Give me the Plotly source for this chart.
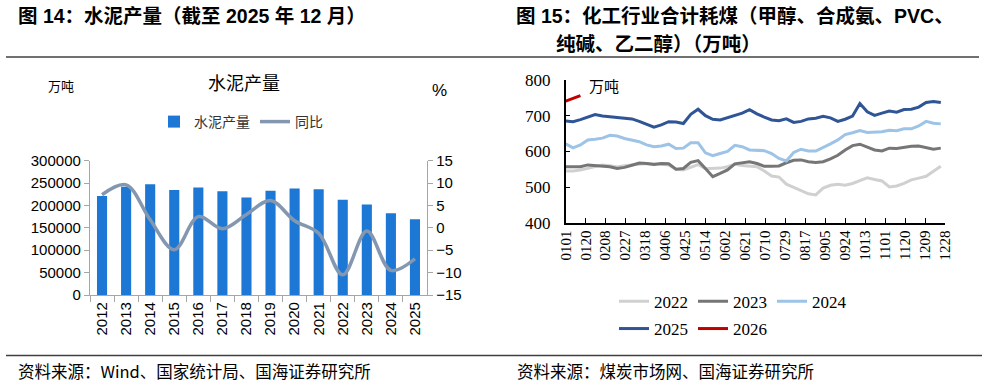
import datetime as dt
import plotly.graph_objects as go

# ---------------- data: left chart (cement output) ----------------
years = ['2012', '2013', '2014', '2015', '2016', '2017', '2018',
         '2019', '2020', '2021', '2022', '2023', '2024', '2025']
cement_output = [220984, 241924, 247619, 234796, 240295, 231625, 217667,
                 233036, 237691, 236281, 212927, 202300, 182500, 169000]
cement_yoy = [7.4, 9.6, 1.8, -4.9, 2.5, -0.2, 3.0,
              6.1, 1.6, -1.2, -10.5, -0.7, -9.5, -6.9]

# ---------------- data: right chart (chemical coal use, weekly) ----------------
tick_labels = ['0101', '0120', '0208', '0227', '0318', '0406', '0425', '0514',
               '0602', '0621', '0710', '0729', '0817', '0905', '0924', '1013',
               '1101', '1120', '1209', '1228']
coal_2022 = [545, 545, 548, 553, 558, 562, 560, 556, 560, 563,
             564, 566, 566, 564, 562, 550, 548, 555, 563, 551,
             551, 553, 557, 564, 560, 558, 557, 545, 531, 528,
             508, 499, 491, 481, 478, 497, 505, 508, 505, 510,
             518, 526, 521, 517, 500, 503, 510, 520, 525, 530,
             544, 558]
coal_2023 = [557, 557, 557, 562, 560, 560, 557, 552, 555, 561,
             567, 566, 563, 566, 565, 550, 552, 569, 574, 552,
             529, 538, 548, 565, 568, 571, 566, 558, 558, 559,
             568, 575, 576, 571, 569, 571, 579, 589, 604, 616,
             620, 611, 604, 601, 609, 608, 612, 614, 615, 610,
             606, 609]
coal_2024 = [621, 610, 618, 632, 634, 637, 645, 643, 636, 632,
             627, 618, 613, 615, 620, 608, 609, 624, 624, 596,
             588, 594, 600, 617, 613, 604, 604, 602, 594, 580,
             573, 597, 606, 601, 601, 610, 621, 632, 647, 652,
             658, 653, 654, 655, 659, 658, 663, 663, 671, 684,
             679, 677]
coal_2025 = [685, 683, 689, 697, 703, 699, 697, 695, 692, 691,
             684, 676, 668, 674, 683, 682, 678, 704, 718, 700,
             690, 688, 694, 699, 707, 717, 705, 696, 688, 686,
             691, 681, 684, 691, 693, 698, 694, 684, 690, 699,
             734, 711, 701, 707, 713, 710, 717, 718, 724, 737,
             740, 737]
coal_2026 = [741, 749, 756]

coal_series = [('2022', coal_2022, '#D0D0D0', 'legend2'),
               ('2023', coal_2023, '#767676', 'legend2'),
               ('2024', coal_2024, '#9DC3E6', 'legend2'),
               ('2025', coal_2025, '#2F5597', 'legend3'),
               ('2026', coal_2026, '#C00000', 'legend3')]

# day-of-year positions (weekly observations, axis labelled by MMDD)
base = dt.date(2025, 1, 1)
week_dates = [base + dt.timedelta(days=7 * k) for k in range(len(coal_2025))]
week_days = [(d - base).days for d in week_dates]
tick_days = [(dt.date(2025, int(t[:2]), int(t[2:])) - base).days for t in tick_labels]

W, H = 989, 389
def px(x):
    return x / W
def py(y):
    return 1 - y / H

SANS = 'Liberation Sans, Arial, Noto Sans CJK SC, sans-serif'
CJK = 'Noto Sans CJK SC, sans-serif'
SERIF = 'Liberation Serif, Times New Roman, Noto Sans CJK SC, serif'
GREY = '#A6A6A6'

fig = go.Figure()

fig.add_trace(go.Bar(x=years, y=cement_output, name='水泥产量',
                     marker=dict(color='#1C78D4', line=dict(width=0)),
                     xaxis='x', yaxis='y', legend='legend'))
fig.add_trace(go.Scatter(x=years, y=cement_yoy, name='同比', mode='lines',
                         line=dict(color='#8497B0', width=3.5, shape='spline', smoothing=1.0),
                         xaxis='x', yaxis='y2', legend='legend'))

for name, vals, color, lg in coal_series:
    fig.add_trace(go.Scatter(x=week_days[:len(vals)], y=vals, name=name, mode='lines',
                             line=dict(color=color, width=3),
                             xaxis='x2', yaxis='y3', legend=lg))

fig.update_layout(
    width=W, height=H, margin=dict(l=0, r=0, t=0, b=0, autoexpand=False),
    paper_bgcolor='white', plot_bgcolor='white',
    bargap=0.58,
    xaxis=dict(domain=[px(90), px(427)], anchor='y', type='category', automargin=False,
               showline=True, linecolor=GREY, linewidth=1.3,
               ticks='outside', tickson='boundaries', ticklen=6, tickcolor=GREY,
               tickangle=-90, tickfont=dict(family=SANS, size=15, color='#000'),
               showgrid=False, zeroline=False),
    yaxis=dict(domain=[py(295), py(160.7)], anchor='x', range=[0, 300000], dtick=50000,
               tickformat='d', exponentformat='none', automargin=False,
               showline=True, linecolor=GREY, linewidth=1.3,
               ticks='outside', ticklen=5, tickcolor=GREY,
               tickfont=dict(family=SANS, size=15, color='#000'),
               showgrid=False, zeroline=False),
    yaxis2=dict(overlaying='y', side='right', anchor='x', range=[-15, 15], dtick=5,
                automargin=False,
                showline=True, linecolor=GREY, linewidth=1.3,
                ticks='outside', ticklen=5, tickcolor=GREY,
                tickfont=dict(family=SANS, size=15, color='#000'),
                showgrid=False, zeroline=False),
    xaxis2=dict(domain=[px(565.7), px(945)], anchor='y3', range=[0, 361], automargin=False,
                tickmode='array', tickvals=tick_days, ticktext=tick_labels,
                showline=True, linecolor='#000', linewidth=1.5,
                ticks='inside', ticklen=5, tickcolor='#000', tickwidth=1.2,
                tickangle=-90, tickfont=dict(family=SERIF, size=15, color='#000'),
                showgrid=False, zeroline=False),
    yaxis3=dict(domain=[py(222.7), py(80)], anchor='x2', range=[400, 800], dtick=100,
                automargin=False,
                showline=True, linecolor='#000', linewidth=1.5,
                ticks='inside', ticklen=5, tickcolor='#000', tickwidth=1.2,
                ticklabelstandoff=10,
                tickfont=dict(family=SERIF, size=17, color='#000'),
                showgrid=False, zeroline=False),
    legend=dict(orientation='h', x=px(241), xanchor='center', y=py(122), yanchor='middle',
                font=dict(family=CJK, size=14, color='#333'), bgcolor='rgba(0,0,0,0)',
                traceorder='normal', itemwidth=30),
    legend2=dict(orientation='h', x=px(614), xanchor='left', y=py(301.7), yanchor='middle',
                 font=dict(family=SERIF, size=17, color='#000'), bgcolor='rgba(0,0,0,0)',
                 traceorder='normal', itemwidth=30),
    legend3=dict(orientation='h', x=px(614), xanchor='left', y=py(329), yanchor='middle',
                 font=dict(family=SERIF, size=17, color='#000'), bgcolor='rgba(0,0,0,0)',
                 traceorder='normal', itemwidth=30),
    showlegend=True,
)

shapes = [
    dict(type='line', xref='paper', yref='paper', x0=px(6), x1=px(979), y0=py(57), y1=py(57),
         line=dict(color='#404040', width=1.5)),
    dict(type='line', xref='paper', yref='paper', x0=px(6), x1=px(982), y0=py(355.5), y1=py(355.5),
         line=dict(color='#404040', width=1.5)),
]
fig.update_layout(shapes=shapes)

def ann(text, x, y, size, family=CJK, xanchor='left', color='#000'):
    fig.add_annotation(text=text, x=px(x), y=py(y), xref='paper', yref='paper',
                       xanchor=xanchor, yanchor='middle', showarrow=False,
                       font=dict(family=family, size=size, color=color))

ann('<b>图 14：水泥产量（截至 2025 年 12 月）</b>', 16, 16, 19.5, family=SANS)
ann('<b>图 15：化工行业合计耗煤（甲醇、合成氨、PVC、</b>', 514, 16, 19.5, family=SANS)
ann('<b>纯碱、乙二醇）（万吨）</b>', 554, 44, 19.5, family=SANS)
ann('万吨', 61, 86, 13, xanchor='center')
ann('水泥产量', 244, 82, 18, xanchor='center')
ann('%', 439, 90, 17, family=SANS, xanchor='center')
ann('万吨', 604, 86, 15, xanchor='center')
ann('资料来源：Wind、国家统计局、国海证券研究所', 16, 371, 16.5)
ann('资料来源：煤炭市场网、国海证券研究所', 515, 371, 16.5)

fig.write_html('out.html', config={'displayModeBar': False},
               post_script="document.body.style.margin='0';document.body.style.overflow='hidden';")
